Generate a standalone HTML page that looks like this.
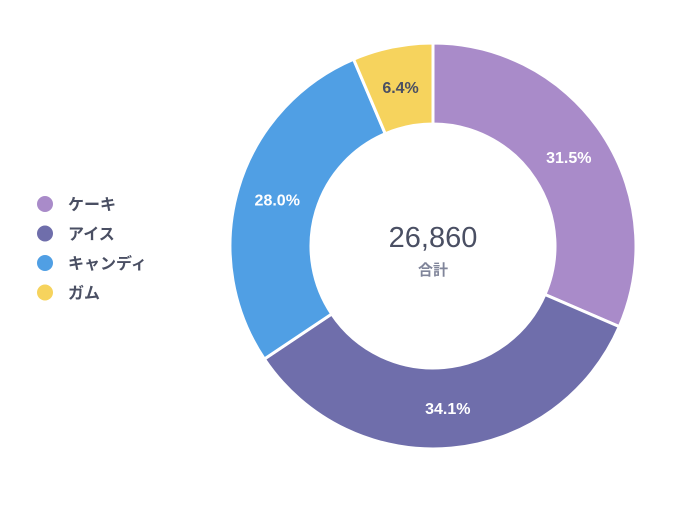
<!DOCTYPE html>
<html><head><meta charset="utf-8">
<style>
body{margin:0;width:699px;height:504px;background:#fff;overflow:hidden;font-family:"Liberation Sans","Noto Sans CJK JP",sans-serif;}
</style></head>
<body>
<svg id="chart" width="699" height="504" xmlns="http://www.w3.org/2000/svg"></svg>
<script>
const categories = ["ケーキ","アイス","キャンディ","ガム"];
const values = [8461, 9159, 7521, 1719];
const colors = ["#a98bc9","#6f6eab","#509fe4","#f6d35d"];
const totalLabel = "26,860";
const totalCaption = "合計";

const NS="http://www.w3.org/2000/svg";
const svg=document.getElementById('chart');
const cx=433, cy=246, R=203, r=122;
const total=values.reduce((a,b)=>a+b,0);
function pt(rad,a){return [cx+rad*Math.sin(a), cy-rad*Math.cos(a)];}
function mk(tag,attrs){const e=document.createElementNS(NS,tag);for(const k in attrs)e.setAttribute(k,attrs[k]);svg.appendChild(e);return e;}
let acc=0;
values.forEach((v,i)=>{
  const a0=acc/total*2*Math.PI; acc+=v; const a1=acc/total*2*Math.PI;
  const large=(a1-a0)>Math.PI?1:0;
  const [x0,y0]=pt(R,a0),[x1,y1]=pt(R,a1),[x2,y2]=pt(r,a1),[x3,y3]=pt(r,a0);
  const p=mk('path',{d:`M${x0},${y0}A${R},${R} 0 ${large} 1 ${x1},${y1}L${x2},${y2}A${r},${r} 0 ${large} 0 ${x3},${y3}Z`,fill:colors[i],stroke:'#fff','stroke-width':3});
  
  
  const am=(a0+a1)/2; const [lx,ly]=pt((R+r)/2,am);
  const t=mk('text',{x:lx,y:ly+6,'text-anchor':'middle','font-size':16,'font-weight':'bold',fill:i==3?'#4a4f63':'#fff'});
  t.textContent=(v/total*100).toFixed(1)+'%';
  
  
  const c=mk('circle',{cx:45,cy:204+i*29.5,r:8,fill:colors[i]});
  
  
  const lt=mk('text',{x:68,y:210+i*29.5,'font-size':16,'font-weight':'bold',fill:'#4a4f63'});
  lt.textContent=categories[i];
  
  
});
const tt=mk('text',{x:cx,y:247,'text-anchor':'middle','font-size':29,fill:'#4a4f63'});
tt.textContent=totalLabel;


const tc=mk('text',{x:cx,y:275,'text-anchor':'middle','font-size':15,'font-weight':'bold',fill:'#80859a'});
tc.textContent=totalCaption;


</script>
</body></html>
